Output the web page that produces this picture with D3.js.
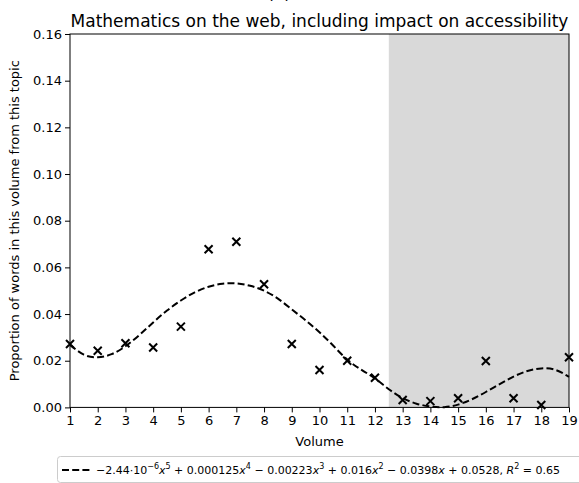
<!DOCTYPE html>
<html><head><meta charset="utf-8">
<script src="https://cdn.jsdelivr.net/npm/d3@7"></script>
<style>body{margin:0;background:#fff;} svg{display:block;font-family:"DejaVu Sans",sans-serif;}</style>
</head><body>
<svg id="c" width="579" height="483"></svg>
<script>
const volumes = [1,2,3,4,5,6,7,8,9,10,11,12,13,14,15,16,17,18,19];
const proportions = [0.0272,0.0243,0.0275,0.0257,0.0346,0.0678,0.0710,0.0528,0.0272,0.0160,0.0200,0.0127,0.0032,0.0027,0.0039,0.0199,0.0039,0.0010,0.0215];
const fitX = [1,1.5,2,2.5,3,3.5,4,4.5,5,5.5,6,6.5,7,7.5,8,8.5,9,9.5,10,10.5,11,11.5,12,12.5,13,13.5,14,14.5,15,15.5,16,16.5,17,17.5,18,18.5,19];
const fitY = [0.0268,0.0226,0.0215,0.0228,0.0262,0.0310,0.0364,0.0415,0.0458,0.0493,0.0517,0.0530,0.0531,0.0521,0.0500,0.0466,0.0420,0.0373,0.0322,0.0264,0.0205,0.0162,0.0124,0.0078,0.0040,0.0016,0.0004,0.0001,0.0012,0.0035,0.0066,0.0100,0.0132,0.0156,0.0167,0.0161,0.0131];
const shadeRange = [12.5, 19];
const xTicks = [1,2,3,4,5,6,7,8,9,10,11,12,13,14,15,16,17,18,19];
const yTicks = [0,0.02,0.04,0.06,0.08,0.10,0.12,0.14,0.16];

const svg = d3.select("#c");
const L=70, R=569, T=34, B=407.4;
const x = d3.scaleLinear().domain([1,19]).range([L,R]);
const y = d3.scaleLinear().domain([0,0.16]).range([B,T]);

// suptitle (clipped at the top edge, as in the reference)
svg.append("text").attr("x",279).attr("y",-1).attr("text-anchor","middle").attr("font-size",17).text("(a)");

// shade
svg.append("rect").attr("x",x(shadeRange[0])).attr("y",T).attr("width",x(shadeRange[1])-x(shadeRange[0])).attr("height",B-T).attr("fill","#d9d9d9");

// fit line
svg.append("path").datum(fitX.map((v,i)=>[v,fitY[i]]))
  .attr("d",d3.line().x(d=>x(d[0])).y(d=>y(d[1])).curve(d3.curveNatural))
  .attr("fill","none").attr("stroke","#000").attr("stroke-width",2).attr("stroke-dasharray","7,3.2");

// markers
const s=4;
const m = svg.append("g");
volumes.forEach((v,i)=>{
  const cx=x(v), cy=y(proportions[i]);
  m.append("path").attr("d",`M${cx-s},${cy-s}L${cx+s},${cy+s}M${cx-s},${cy+s}L${cx+s},${cy-s}`)
   .attr("stroke","#000").attr("stroke-width",2);
});

// axes
const xa = svg.append("g").attr("transform",`translate(0,${B})`).call(d3.axisBottom(x).tickValues(xTicks).tickSize(5).tickPadding(3).tickFormat(d3.format("d")));
const ya = svg.append("g").attr("transform",`translate(${L},0)`).call(d3.axisLeft(y).tickValues(yTicks).tickSize(5).tickPadding(3).tickFormat(d3.format(".2f")));
[xa,ya].forEach(a=>{a.selectAll("text").attr("font-size",13).attr("fill","#000").attr("font-family","DejaVu Sans");a.select(".domain").remove();a.selectAll("line").attr("stroke","#000");});
svg.append("rect").attr("x",L).attr("y",T).attr("width",R-L).attr("height",B-T).attr("fill","none").attr("stroke","#000").attr("stroke-width",1);

// title
svg.append("text").attr("x",(L+R)/2).attr("y",27).attr("text-anchor","middle").attr("font-size",17).text("Mathematics on the web, including impact on accessibility");
svg.append("text").attr("x",(L+R)/2).attr("y",446).attr("text-anchor","middle").attr("font-size",13).text("Volume");
svg.append("text").attr("transform",`translate(19,${(T+B)/2}) rotate(-90)`).attr("text-anchor","middle").attr("font-size",13).text("Proportion of words in this volume from this topic");

// legend
const lg = svg.append("g");
lg.append("rect").attr("x",57.5).attr("y",456.5).attr("width",540).attr("height",26).attr("rx",3).attr("fill","#fff").attr("stroke","#ccc");
lg.append("line").attr("x1",62).attr("x2",90).attr("y1",470).attr("y2",470).attr("stroke","#000").attr("stroke-width",2).attr("stroke-dasharray","7,3.2");
const t = lg.append("text").attr("x",96).attr("y",474).attr("font-size",11).attr("font-family","DejaVu Sans");
const parts = [["−2.44·10",""],["−6","sup"],["x","i"],["5","sup"],[" + 0.000125",""],["x","i"],["4","sup"],[" − 0.00223",""],["x","i"],["3","sup"],[" + 0.016",""],["x","i"],["2","sup"],[" − 0.0398",""],["x","i"],[" + 0.0528, ",""],["R","i"],["2","sup"],[" = 0.65",""]];
parts.forEach(([txt,k],i)=>{
  const ts=t.append("tspan").text(txt);
  const prev = i>0?parts[i-1][1]:"";
  if(k==="sup") ts.attr("font-size",8).attr("dy",prev==="sup"?0:-5);
  else if(prev==="sup") ts.attr("dy",5);
  if(k==="i") ts.attr("font-style","italic");
});
</script>
</body></html>
